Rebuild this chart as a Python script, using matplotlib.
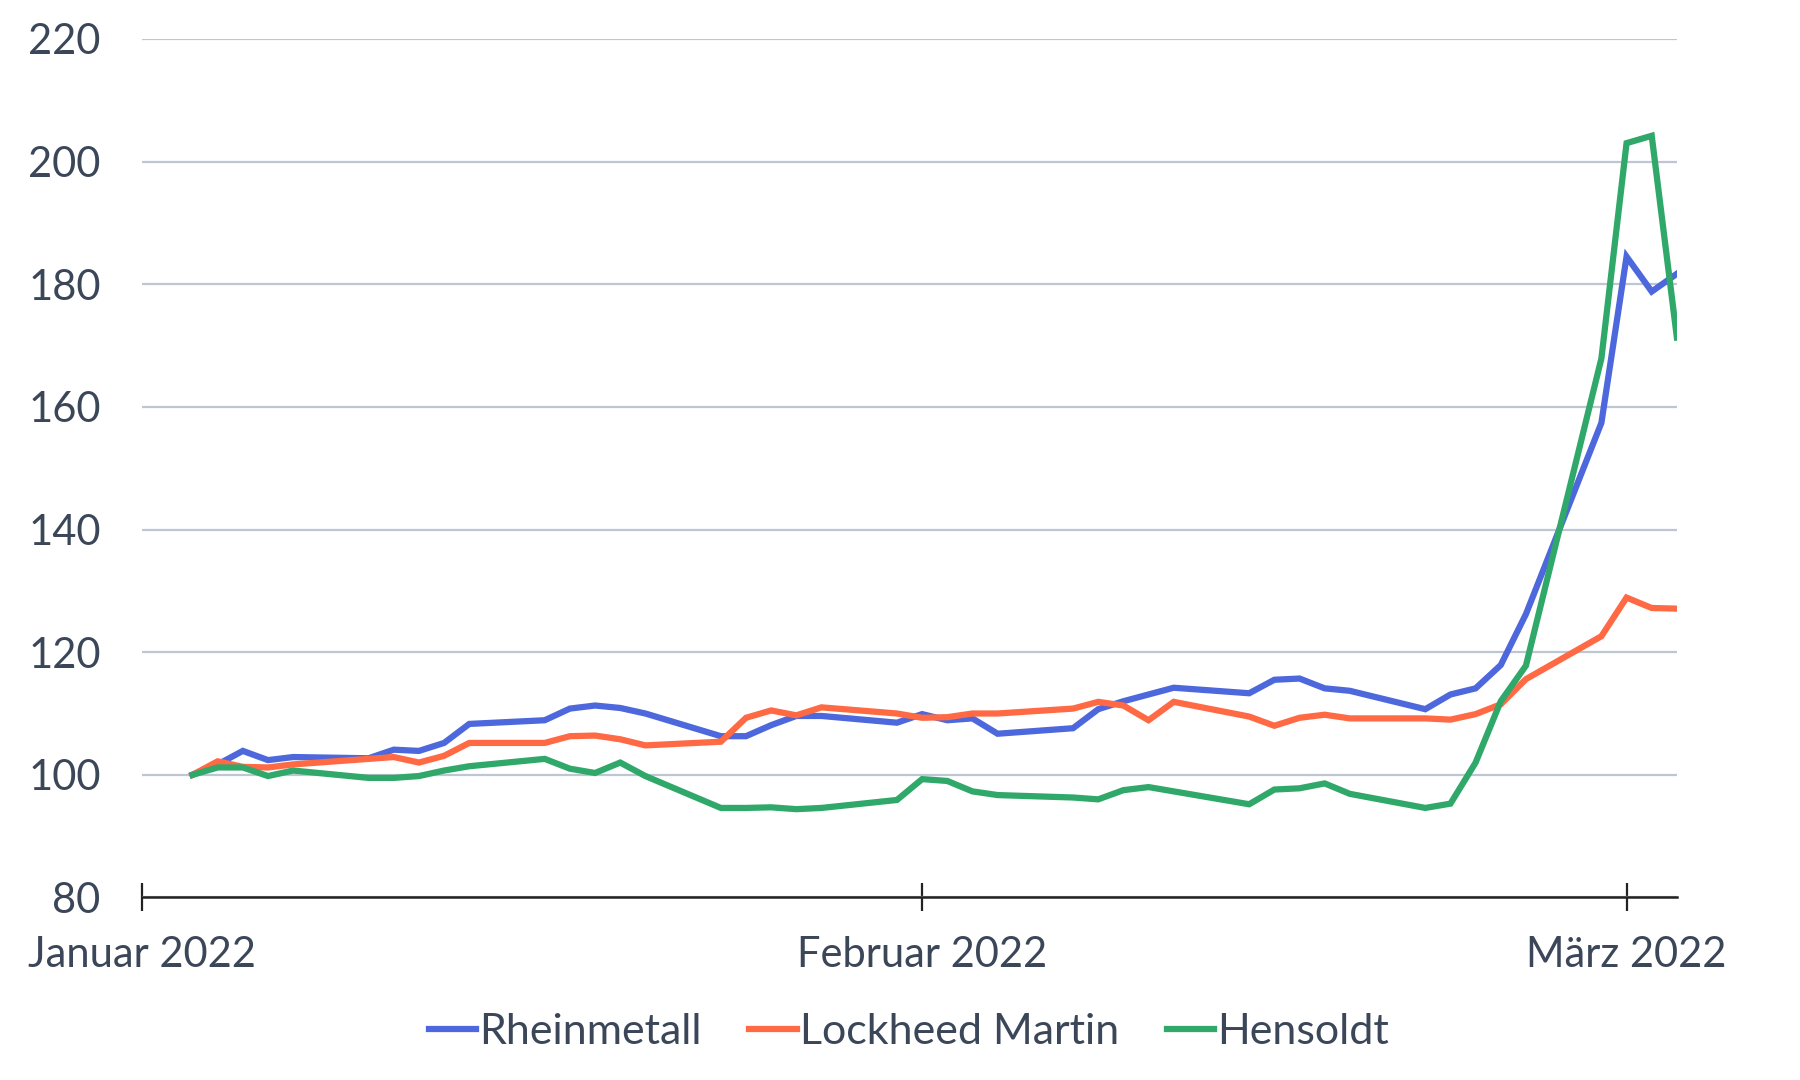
import numpy as np
import pandas as pd
import matplotlib
matplotlib.use("Agg")
import matplotlib.pyplot as plt
import matplotlib.dates as mdates

plt.rcParams['font.family'] = ['Lato', 'DejaVu Sans']

# trading days shown in the chart
dates = pd.to_datetime([
    "2022-01-03", "2022-01-04", "2022-01-05", "2022-01-06", "2022-01-07",
    "2022-01-10", "2022-01-11", "2022-01-12", "2022-01-13", "2022-01-14",
    "2022-01-17", "2022-01-18", "2022-01-19", "2022-01-20", "2022-01-21",
    "2022-01-24", "2022-01-25", "2022-01-26", "2022-01-27", "2022-01-28",
    "2022-01-31", "2022-02-01", "2022-02-02", "2022-02-03", "2022-02-04",
    "2022-02-07", "2022-02-08", "2022-02-09", "2022-02-10", "2022-02-11",
    "2022-02-14", "2022-02-15", "2022-02-16", "2022-02-17", "2022-02-18",
    "2022-02-21", "2022-02-22", "2022-02-23", "2022-02-24", "2022-02-25",
    "2022-02-28", "2022-03-01", "2022-03-02", "2022-03-03",
])

rheinmetall = [
    100.0, 101.7, 103.9, 102.4, 102.9,
    102.7, 104.1, 103.9, 105.2, 108.3,
    108.9, 110.8, 111.3, 110.9, 110.0,
    106.3, 106.3, 108.1, 109.6, 109.6,
    108.5, 109.9, 108.9, 109.2, 106.7,
    107.6, 110.7, 112.0, 113.1, 114.2,
    113.3, 115.5, 115.7, 114.1, 113.7,
    110.7, 113.1, 114.1, 117.9, 126.2,
    157.4, 184.5, 178.8, 181.7,
]

lockheed = [
    100.0, 102.2, 101.3, 101.2, 101.7,
    102.6, 102.9, 102.0, 103.1, 105.2,
    105.2, 106.3, 106.4, 105.8, 104.8,
    105.4, 109.3, 110.5, 109.7, 111.0,
    110.0, 109.3, 109.4, 110.0, 110.0,
    110.8, 111.9, 111.3, 108.9, 111.9,
    109.5, 108.0, 109.3, 109.8, 109.2,
    109.2, 109.0, 109.9, 111.5, 115.6,
    122.6, 128.9, 127.2, 127.1,
]

hensoldt = [
    100.0, 101.2, 101.2, 99.8, 100.7,
    99.5, 99.5, 99.8, 100.7, 101.4,
    102.6, 101.0, 100.3, 102.0, 99.8,
    94.6, 94.6, 94.7, 94.4, 94.6,
    95.9, 99.3, 99.0, 97.3, 96.7,
    96.3, 96.0, 97.5, 98.0, 97.3,
    95.2, 97.6, 97.8, 98.6, 96.9,
    94.6, 95.3, 102.0, 112.0, 117.8,
    167.9, 203.0, 204.2, 171.3,
]

series_names = ["Rheinmetall", "Lockheed Martin", "Hensoldt"]
colors = ["#4C68DC", "#FF6A45", "#2FA86A"]

text_color = "#3B4759"

fig = plt.figure(figsize=(18, 10.8), dpi=100)
ax = fig.add_axes([0.079, 0.169, 0.8526, 0.795])

for vals, name, col in zip([rheinmetall, lockheed, hensoldt], series_names, colors):
    ax.plot(dates, vals, color=col, lw=4.5, label=name, solid_joinstyle="miter")

ax.set_xlim(pd.Timestamp("2022-01-01"), pd.Timestamp("2022-03-03"))
ax.set_ylim(80, 220)
ax.set_yticks(np.arange(80, 221, 20))

ax.grid(axis="y", color="#BFC6D3", lw=1.6)
ax.set_axisbelow(True)

ax.xaxis.set_major_locator(mdates.MonthLocator())
month_names = {1: "Januar", 2: "Februar", 3: "März"}
ax.xaxis.set_major_formatter(
    plt.FuncFormatter(lambda x, pos: month_names[mdates.num2date(x).month] + " " + str(mdates.num2date(x).year)))

for s in ["top", "right", "left"]:
    ax.spines[s].set_visible(False)
ax.spines["bottom"].set_color("#222222")
ax.spines["bottom"].set_linewidth(1.8)

ax.tick_params(axis="y", length=0, pad=30, labelsize=30, labelcolor=text_color)
ax.tick_params(axis="x", direction="inout", length=20, width=1.6, color="#222222",
               pad=18, labelsize=30, labelcolor=text_color)

leg = fig.legend(loc="center", bbox_to_anchor=(0.505, 0.044), ncol=3, frameon=False,
                 fontsize=31, handlelength=1.1, handletextpad=0.08, columnspacing=1.1)
for t in leg.get_texts():
    t.set_color(text_color)

fig.savefig("out.png", dpi=100, facecolor="white")
